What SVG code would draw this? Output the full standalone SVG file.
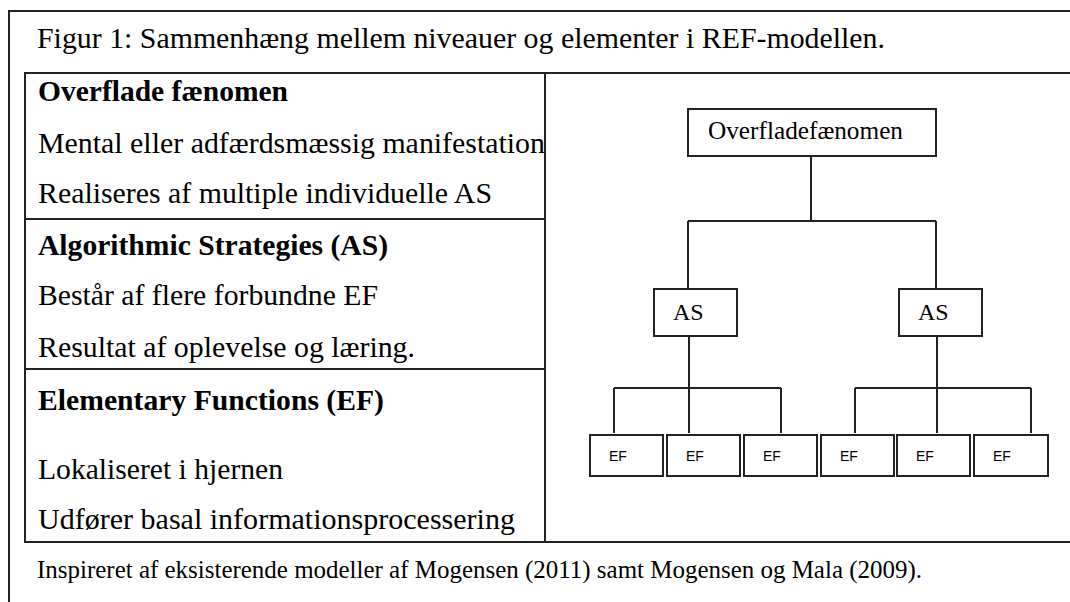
<svg xmlns="http://www.w3.org/2000/svg" width="1070" height="602" viewBox="0 0 1070 602">
<style>
.ln{stroke:#222;stroke-width:2;fill:none}
.bx{stroke:#222;stroke-width:2;fill:#fff}
.sf{font-family:"Liberation Serif","Times New Roman",serif;fill:#000}
.t{font-size:29px}
.b{font-weight:bold}
.ef{font-family:"Liberation Sans",Arial,sans-serif;font-size:14px;fill:#000}
</style>
<rect width="1070" height="602" fill="#fff"/>
<g id="frame">
<path class="ln" d="M9,602 V11 H1070"/>
<text class="sf t" x="37" y="48" textLength="848" lengthAdjust="spacingAndGlyphs">Figur 1: Sammenhæng mellem niveauer og elementer i REF-modellen.</text>
</g>
<g id="table">
<path class="ln" d="M1070,73 H25 V542 H1070 M545,73 V542 M25,219 H545 M25,369 H545"/>
<text class="sf t b" x="38" y="101" textLength="250" lengthAdjust="spacingAndGlyphs">Overflade fænomen</text>
<text class="sf t" x="38" y="153" textLength="507" lengthAdjust="spacingAndGlyphs">Mental eller adfærdsmæssig manifestation</text>
<text class="sf t" x="38" y="203" textLength="454" lengthAdjust="spacingAndGlyphs">Realiseres af multiple individuelle AS</text>
<text class="sf t b" x="38" y="255" textLength="350" lengthAdjust="spacingAndGlyphs">Algorithmic Strategies (AS)</text>
<text class="sf t" x="38" y="305" textLength="340" lengthAdjust="spacingAndGlyphs">Består af flere forbundne EF</text>
<text class="sf t" x="38" y="357" textLength="377" lengthAdjust="spacingAndGlyphs">Resultat af oplevelse og læring.</text>
<text class="sf t b" x="38" y="410" textLength="346" lengthAdjust="spacingAndGlyphs">Elementary Functions (EF)</text>
<text class="sf t" x="38" y="479" textLength="245" lengthAdjust="spacingAndGlyphs">Lokaliseret i hjernen</text>
<text class="sf t" x="38" y="529" textLength="477" lengthAdjust="spacingAndGlyphs">Udfører basal informationsprocessering</text>
</g>
<g id="footer">
<text class="sf" x="37" y="578" font-size="25" textLength="885" lengthAdjust="spacingAndGlyphs">Inspireret af eksisterende modeller af Mogensen (2011) samt Mogensen og Mala (2009).</text>
</g>
<g id="connectors">
<path class="ln" d="M811,156 V221 M688,221 H936 M688,221 V289 M936,221 V289"/>
<path class="ln" d="M689,336 V388 M614,388 H781 M614,388 V433 M689,388 V433 M781,388 V433"/>
<path class="ln" d="M937,336 V388 M855,388 H1031 M855,388 V433 M937,388 V433 M1031,388 V433"/>
</g>
<g id="n-top">
<rect class="bx" x="688" y="109" width="248" height="47"/>
<text class="sf" x="708" y="139" font-size="25" textLength="195" lengthAdjust="spacingAndGlyphs">Overfladefænomen</text>
</g>
<g id="n-as1">
<rect class="bx" x="654" y="289" width="83" height="47"/>
<text class="sf" x="673" y="320" font-size="24">AS</text>
</g>
<g id="n-as2">
<rect class="bx" x="899" y="289" width="83" height="47"/>
<text class="sf" x="918" y="320" font-size="24">AS</text>
</g>
<g id="n-ef1"><rect class="bx" x="590" y="435" width="73" height="41"/><text class="ef" x="609" y="461">EF</text></g>
<g id="n-ef2"><rect class="bx" x="667" y="435" width="73" height="41"/><text class="ef" x="686" y="461">EF</text></g>
<g id="n-ef3"><rect class="bx" x="744" y="435" width="73" height="41"/><text class="ef" x="763" y="461">EF</text></g>
<g id="n-ef4"><rect class="bx" x="821" y="435" width="73" height="41"/><text class="ef" x="840" y="461">EF</text></g>
<g id="n-ef5"><rect class="bx" x="897" y="435" width="73" height="41"/><text class="ef" x="916" y="461">EF</text></g>
<g id="n-ef6"><rect class="bx" x="974" y="435" width="74" height="41"/><text class="ef" x="993" y="461">EF</text></g>
</svg>
